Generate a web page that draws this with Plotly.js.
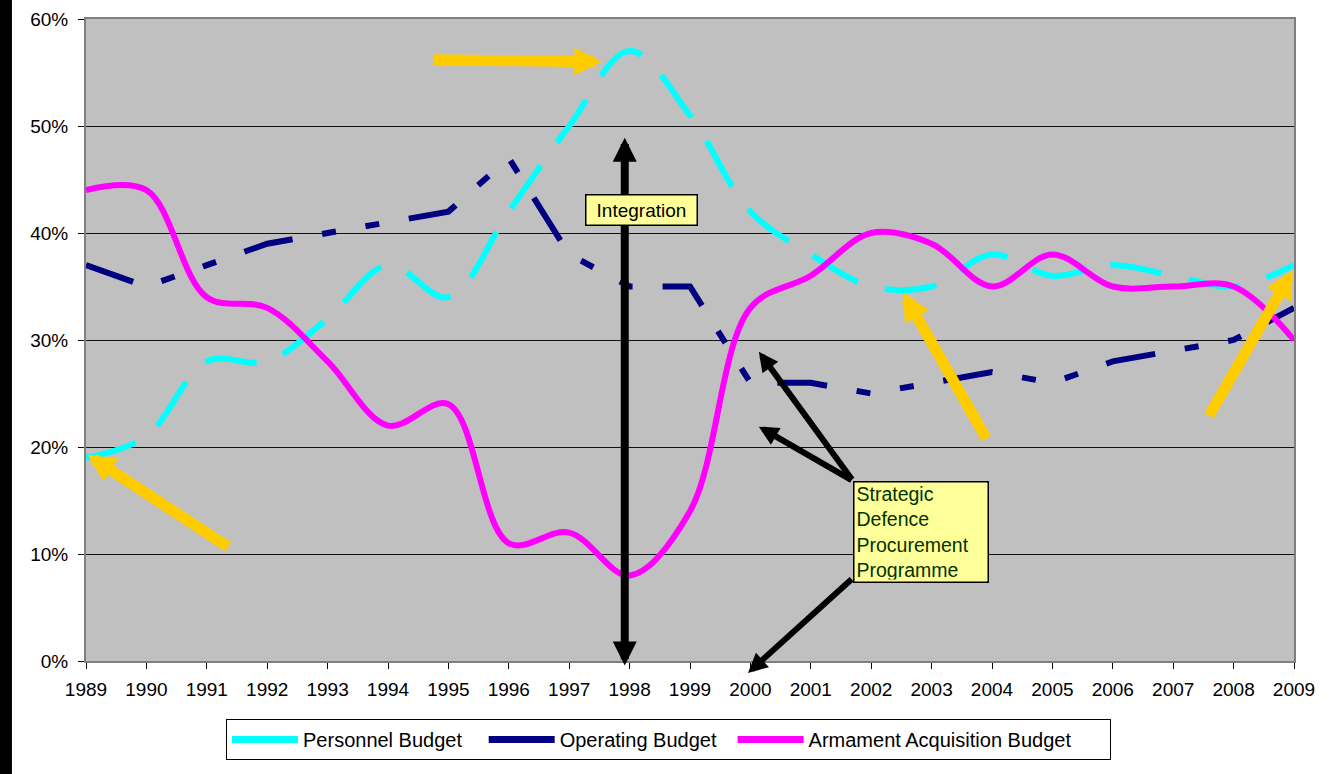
<!DOCTYPE html>
<html><head><meta charset="utf-8">
<script src="https://cdn.plot.ly/plotly-3.0.1.min.js"></script>
<style>
html,body{margin:0;padding:0;background:#fff;}
#chart{width:1332px;height:774px;}
</style>
</head><body><div id="chart"></div>
<script>
// ---- data (percent of defence budget) ----
const years = [1989,1990,1991,1992,1993,1994,1995,1996,1997,1998,1999,2000,2001,2002,2003,2004,2005,2006,2007,2008,2009];
const personnelBudget = [19,21,28,28,32,37,34,42,50,57,51,42,38,35,35,38,36,37,36,35,37];
const operatingBudget = [37,35,37,39,40,41,42,47,38,35,35,26,26,25,26,27,26,28,29,30,33];
const armamentBudget  = [44,44,34,33,28,22,24,11,12,8,14,33,36,40,39,35,38,35,35,35,30];
const seriesNames = ['Personnel Budget','Operating Budget','Armament Acquisition Budget'];
const yTickVals = [0,10,20,30,40,50,60];

const FONT = 'Liberation Sans, Arial, Helvetica, sans-serif';
const CYAN = '#00FFFF', NAVY = '#000080', MAGENTA = '#FF00FF', GOLD = '#FFCC00';
const NB = '\u00a0';

const traces = [
  {x: years, y: personnelBudget, name: seriesNames[0], type: 'scatter', mode: 'lines', showlegend: false,
   line: {color: CYAN, width: 6, shape: 'spline', smoothing: 1, dash: '52px,28px'}},
  {x: years, y: operatingBudget, name: seriesNames[1], type: 'scatter', mode: 'lines', showlegend: false,
   line: {color: NAVY, width: 6, dash: '50px,30px,14px,30px,14px,30px'}},
  {x: years, y: armamentBudget, name: seriesNames[2], type: 'scatter', mode: 'lines', showlegend: false,
   line: {color: MAGENTA, width: 6, shape: 'spline', smoothing: 1}},
  // legend entries (solid samples)
  {x: [null], y: [null], name: seriesNames[0] + NB.repeat(3), type: 'scatter', mode: 'lines', line: {color: CYAN, width: 7}},
  {x: [null], y: [null], name: seriesNames[1] + NB.repeat(2), type: 'scatter', mode: 'lines', line: {color: NAVY, width: 7}},
  {x: [null], y: [null], name: seriesNames[2] + NB.repeat(6), type: 'scatter', mode: 'lines', line: {color: MAGENTA, width: 7}}
];

function arrow(x, y, ax, ay, color, w, size, both) {
  const a = {x: x, y: y, ax: ax, ay: ay, xref: 'x', yref: 'y', axref: 'x', ayref: 'y',
    text: '', font: {size: 1}, showarrow: true, arrowhead: 2, arrowsize: size, arrowwidth: w,
    arrowcolor: color, standoff: 0, startstandoff: 0};
  if (both) { a.arrowside = 'end+start'; a.startarrowhead = 2; a.startarrowsize = size; }
  return a;
}

const annotations = [
  arrow(1989.03, 19.25, 1991.38, 10.56, GOLD, 11, 0.5),
  arrow(1997.54, 56.0, 1994.73, 56.2, GOLD, 11, 0.5),
  arrow(2002.53, 34.4, 2003.92, 20.65, GOLD, 11, 0.5),
  arrow(2008.98, 36.5, 2007.58, 22.8, GOLD, 11, 0.5),
  arrow(1997.92, 48.9, 1997.92, -0.56, '#000', 8, 0.6, true),
  arrow(2000.14, 28.9, 2001.70, 16.82, '#000', 6, 0.65),
  arrow(2000.14, 21.9, 2001.70, 16.82, '#000', 6, 0.65),
  arrow(1999.96, -1.12, 2001.70, 7.76, '#000', 6, 0.65),
  {x: 1998.19, y: 42.15, xref: 'x', yref: 'y', showarrow: false, text: 'Integration',
   font: {family: FONT, size: 19, color: '#000'}, bgcolor: '#FFFF99', bordercolor: '#000',
   borderwidth: 1.5, borderpad: 2, width: 106, height: 25},
  {x: 2002.82, y: 12.1, xref: 'x', yref: 'y', showarrow: false,
   text: 'Strategic<br>Defence<br>Procurement<br>Programme', align: 'left',
   font: {family: FONT, size: 19.5, color: '#003300'}, bgcolor: '#FFFF99', bordercolor: '#000',
   borderwidth: 1.5, borderpad: 2, width: 129, height: 95}
];

const shapes = [
  {type: 'rect', xref: 'paper', yref: 'paper', x0: -0.0712, x1: -0.0613, y0: -0.2, y1: 1.05,
   fillcolor: '#000000', line: {width: 0}, layer: 'above'}
];

const layout = {
  width: 1332, height: 774,
  margin: {l: 86, r: 38, t: 19, b: 113, pad: 0},
  paper_bgcolor: '#FFFFFF', plot_bgcolor: '#C0C0C0',
  font: {family: FONT, size: 19, color: '#000'},
  xaxis: {range: [1989, 2009], tickmode: 'array', tickvals: years, ticktext: years.map(String),
    ticks: 'outside', ticklen: 6, tickwidth: 1, tickcolor: '#000', showgrid: false, zeroline: false,
    showline: true, linecolor: '#7f7f7f', linewidth: 2, mirror: true, ticklabelstandoff: 4,
    tickfont: {family: FONT, size: 19, color: '#000'}},
  yaxis: {range: [0, 60], tickmode: 'array', tickvals: yTickVals, ticktext: yTickVals.map(v => v + '%'),
    ticks: 'outside', ticklen: 6, tickwidth: 1, tickcolor: '#000', showgrid: true, gridcolor: '#111', gridwidth: 1,
    zeroline: false, showline: true, linecolor: '#7f7f7f', linewidth: 2, mirror: true,
    ticklabelstandoff: 6, tickfont: {family: FONT, size: 19, color: '#000'}},
  legend: {orientation: 'h', x: 0.1159, y: -0.0904, xanchor: 'left', yanchor: 'top',
    bgcolor: '#FFFFFF', bordercolor: '#000', borderwidth: 1, itemwidth: 66,
    font: {family: FONT, size: 20, color: '#000'}},
  annotations: annotations,
  shapes: shapes,
  showlegend: true
};

Plotly.newPlot('chart', traces, layout, {displayModeBar: false, staticPlot: true});
</script>
</body></html>
